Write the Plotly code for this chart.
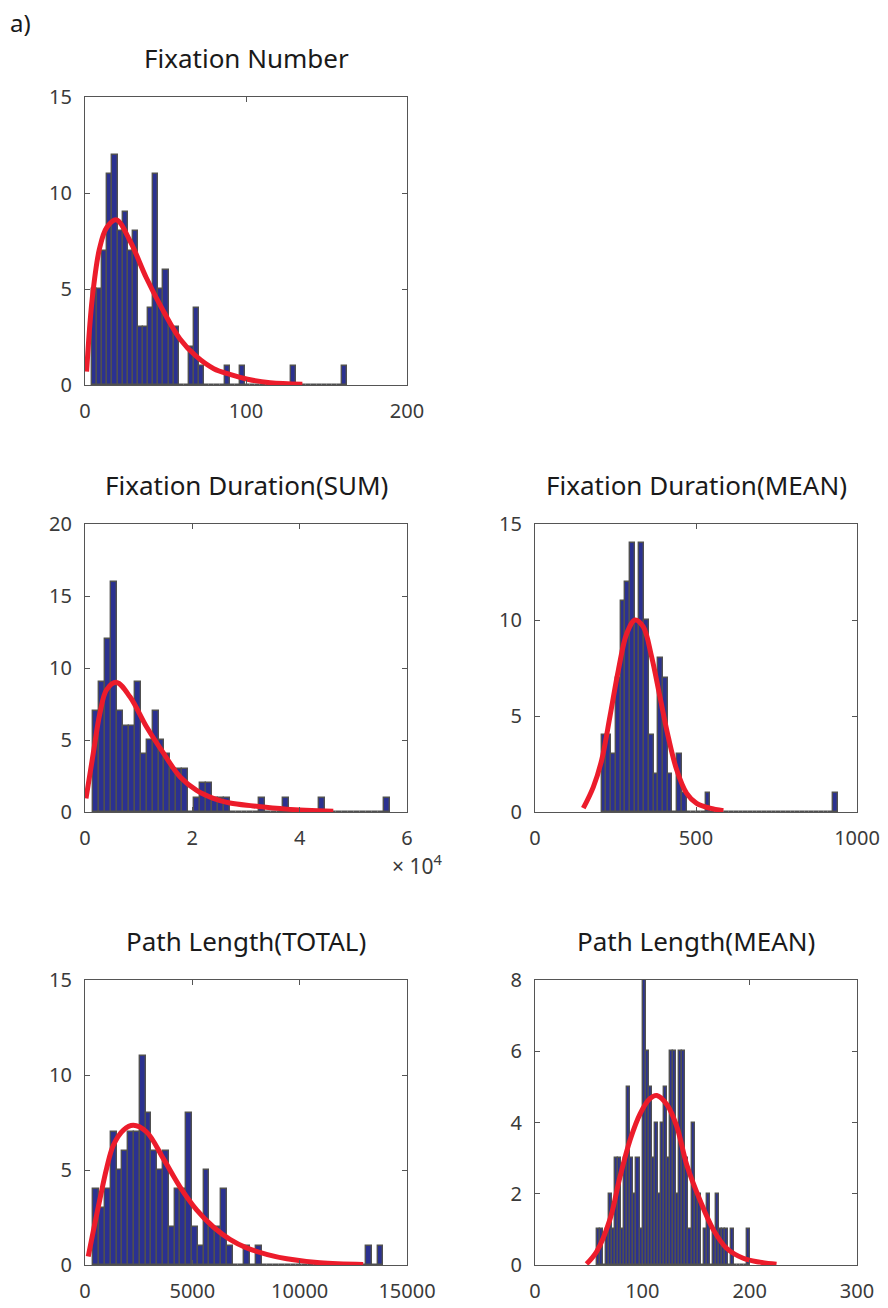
import plotly.graph_objects as go

# ---------------- data ----------------
# Fixation Number
fn_edge0, fn_binw = 4.35, 3.17
fn_counts = [5, 5, 7, 11, 12, 8, 9, 7, 8, 3, 3, 4, 11, 5, 6, 3, 3, 0, 0, 2,
             4, 1, 0, 0, 0, 0, 1, 0, 0, 1, 0, 0, 0, 0, 0, 0, 0, 0, 0, 1,
             0, 0, 0, 0, 0, 0, 0, 0, 0, 1]
fn_fit_x = [1, 4.5, 9, 13.5, 19.5, 28, 38, 49, 59, 69, 80, 90, 101, 115, 135]
fn_fit_y = [0.7, 4.5, 7.1, 8.2, 8.6, 7.5, 5.6, 3.8, 2.4, 1.5, 0.85, 0.55, 0.3, 0.12, 0.04]

# Fixation Duration (SUM)
fds_edge0, fds_binw = 1546, 1105
fds_counts = [7, 9, 12, 16, 7, 6, 6, 9, 4, 5, 7, 5, 4, 3, 3, 3, 0, 1, 2, 2,
              1, 1, 1, 0, 0, 0, 0, 0, 1, 0, 0, 0, 1, 0, 0, 0, 0, 0, 1, 0,
              0, 0, 0, 0, 0, 0, 0, 0, 0, 1]
fds_fit_x = [190, 1550, 2800, 4040, 5900, 8380, 11490, 14590, 17700, 20800,
             23900, 27000, 31350, 37570, 46260]
fds_fit_y = [0.95, 4.1, 6.9, 8.5, 9.0, 8.0, 5.9, 4.1, 2.45, 1.5, 0.95, 0.62,
             0.42, 0.2, 0.06]

# Fixation Duration (MEAN)
fdm_edge0, fdm_binw = 207.1, 14.66
fdm_counts = [4, 4, 3, 7, 11, 12, 14, 10, 14, 10, 4, 2, 8, 7, 2, 0, 3, 1, 0, 0,
              0, 0, 1, 0, 0, 0, 0, 0, 0, 0, 0, 0, 0, 0, 0, 0, 0, 0, 0, 0,
              0, 0, 0, 0, 0, 0, 0, 0, 0, 1]
fdm_fit_x = [150, 181, 207, 233, 259, 285, 310.6, 336, 362, 388, 414, 440,
             471, 502, 543, 585]
fdm_fit_y = [0.2, 1.3, 2.7, 5.0, 7.4, 9.3, 10.0, 9.65, 8.1, 6.0, 3.9, 2.2,
             0.97, 0.45, 0.2, 0.07]

# Path Length (TOTAL)
plt_edge0, plt_binw = 387, 270.2
plt_counts = [4, 3, 4, 7, 5, 6, 7, 7, 11, 8, 6, 5, 6, 2, 4, 4, 8, 2, 1, 5,
              2, 2, 4, 1, 0, 0, 1, 0, 1, 0, 0, 0, 0, 0, 0, 0, 0, 0, 0, 0,
              0, 0, 0, 0, 0, 0, 0, 1, 0, 1]
plt_fit_x = [150, 390, 700, 1010, 1320, 1790, 2250, 2870, 3650, 4430, 5200,
             5980, 6750, 7530, 8500, 9400, 10950, 12960]
plt_fit_y = [0.45, 1.8, 3.5, 5.1, 6.3, 7.1, 7.35, 7.0, 5.6, 4.1, 2.9, 2.0,
             1.35, 0.9, 0.55, 0.33, 0.12, 0.03]

# Path Length (MEAN)
plm_edge0, plm_binw = 57.5, 2.85
plm_counts = [1, 1, 0, 1, 2, 1, 3, 3, 1, 3, 5, 3, 2, 3, 1, 8, 6, 5, 3, 4,
              2, 4, 5, 3, 6, 6, 2, 6, 6, 3, 1, 4, 2, 2, 0, 1, 2, 0, 1, 2,
              1, 1, 1, 0, 1, 0, 0, 0, 0, 1]
plm_fit_x = [48, 57.5, 70, 79, 88.5, 98, 107, 113.5, 123, 132, 141.5, 154,
             166, 178.5, 194, 209.5, 225]
plm_fit_y = [0.03, 0.38, 1.3, 2.45, 3.5, 4.25, 4.67, 4.76, 4.5, 3.9, 2.8, 1.8,
             1.0, 0.47, 0.19, 0.08, 0.02]

titles = ["Fixation Number", "Fixation Duration(SUM)", "Fixation Duration(MEAN)",
          "Path Length(TOTAL)", "Path Length(MEAN)"]

# ---------------- styling ----------------
W, H = 888, 1308
FONT = "Noto Sans"
BAR_FACE = "#2b3190"
BAR_EDGE = "#505050"
FIT_COLOR = "#ec1c2b"
AX_COLOR = "#555555"
TXT_COLOR = "#3a3a3a"


def px_dom_x(a, b):
    return [a / W, b / W]


def px_dom_y(top, bottom):
    return [1 - bottom / H, 1 - top / H]


panels = [
    dict(counts=fn_counts, e0=fn_edge0, w=fn_binw, fx=fn_fit_x, fy=fn_fit_y,
         dx=(85, 407), dy=(97, 385), xr=[0, 200], yr=[0, 15],
         xt=[0, 100, 200], xtt=["0", "100", "200"], yt=[0, 5, 10, 15]),
    dict(counts=fds_counts, e0=fds_edge0, w=fds_binw, fx=fds_fit_x, fy=fds_fit_y,
         dx=(85, 407), dy=(524, 812), xr=[0, 60000], yr=[0, 20],
         xt=[0, 20000, 40000, 60000], xtt=["0", "2", "4", "6"], yt=[0, 5, 10, 15, 20]),
    dict(counts=fdm_counts, e0=fdm_edge0, w=fdm_binw, fx=fdm_fit_x, fy=fdm_fit_y,
         dx=(535, 857), dy=(524, 812), xr=[0, 1000], yr=[0, 15],
         xt=[0, 500, 1000], xtt=["0", "500", "1000"], yt=[0, 5, 10, 15]),
    dict(counts=plt_counts, e0=plt_edge0, w=plt_binw, fx=plt_fit_x, fy=plt_fit_y,
         dx=(85, 407), dy=(980, 1265), xr=[0, 15000], yr=[0, 15],
         xt=[0, 5000, 10000, 15000], xtt=["0", "5000", "10000", "15000"], yt=[0, 5, 10, 15]),
    dict(counts=plm_counts, e0=plm_edge0, w=plm_binw, fx=plm_fit_x, fy=plm_fit_y,
         dx=(535, 857), dy=(980, 1265), xr=[0, 300], yr=[0, 8],
         xt=[0, 100, 200, 300], xtt=["0", "100", "200", "300"], yt=[0, 2, 4, 6, 8]),
]

fig = go.Figure()
layout = dict(
    width=W, height=H, autosize=False,
    margin=dict(l=0, r=0, t=0, b=0, pad=0, autoexpand=False),
    paper_bgcolor="white", plot_bgcolor="white", showlegend=False,
    bargap=0, font=dict(family=FONT, color=TXT_COLOR),
)
annotations = []

for i, p in enumerate(panels):
    n = i + 1
    xa = "x" if n == 1 else f"x{n}"
    ya = "y" if n == 1 else f"y{n}"
    centers = [p["e0"] + (k + 0.5) * p["w"] for k in range(len(p["counts"]))]
    fig.add_trace(go.Bar(
        x=centers, y=p["counts"], width=p["w"], xaxis=xa, yaxis=ya,
        marker=dict(color=BAR_FACE, line=dict(color=BAR_EDGE, width=1.4)),
        hoverinfo="skip",
    ))
    fig.add_trace(go.Scatter(
        x=p["fx"], y=p["fy"], mode="lines", xaxis=xa, yaxis=ya,
        line=dict(color=FIT_COLOR, width=5, shape="spline", smoothing=1.0),
        hoverinfo="skip",
    ))
    axis_common = dict(
        showgrid=False, zeroline=False, showline=True, linecolor=AX_COLOR,
        linewidth=1.3, mirror="ticks", ticks="inside", ticklen=5,
        tickwidth=1.2, tickcolor=AX_COLOR, automargin=False,
        tickfont=dict(family=FONT, size=20, color=TXT_COLOR),
    )
    xkey = "xaxis" if n == 1 else f"xaxis{n}"
    ykey = "yaxis" if n == 1 else f"yaxis{n}"
    layout[xkey] = dict(axis_common, domain=px_dom_x(*p["dx"]), range=p["xr"],
                        tickvals=p["xt"], ticktext=p["xtt"], anchor=ya,
                        ticklabelstandoff=8)
    layout[ykey] = dict(axis_common, domain=px_dom_y(*p["dy"]), range=p["yr"],
                        tickvals=p["yt"], anchor=xa, ticklabelstandoff=8)
    # title
    annotations.append(dict(
        text=titles[i], xref="paper", yref="paper",
        x=(p["dx"][0] + p["dx"][1]) / 2 / W, y=1 - (p["dy"][0] - 39) / H,
        xanchor="center", yanchor="middle", showarrow=False,
        font=dict(family=FONT, size=26, color="#1a1a1a"),
    ))

annotations.append(dict(
    text="× 10<sup>4</sup>", xref="paper", yref="paper",
    x=390 / W, y=1 - 864 / H, xanchor="left", yanchor="middle", showarrow=False,
    font=dict(family=FONT, size=21, color=TXT_COLOR),
))
annotations.append(dict(
    text="a)", xref="paper", yref="paper",
    x=8 / W, y=1 - 22 / H, xanchor="left", yanchor="middle", showarrow=False,
    font=dict(family=FONT, size=24, color="#1a1a1a"),
))
layout["annotations"] = annotations
fig.update_layout(**layout)
fig.write_html("out.html")
